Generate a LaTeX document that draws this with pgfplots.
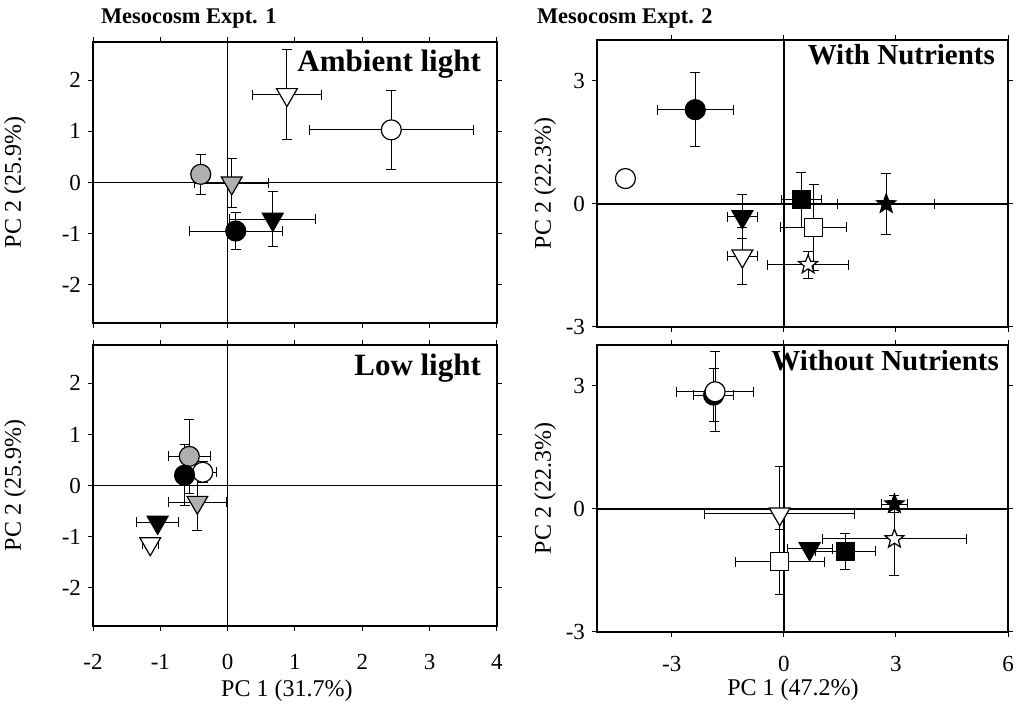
\documentclass[border=0pt]{standalone}
\usepackage{pgfplots}
\pgfplotsset{compat=1.18}
\usepackage{fontspec}
\setmainfont{Liberation Serif}

% five pointed star mark
\pgfdeclareplotmark{fstar}{%
  \pgfpathmoveto{\pgfpointpolar{90}{\pgfplotmarksize}}%
  \pgfpathlineto{\pgfpointpolar{126}{0.42\pgfplotmarksize}}%
  \pgfpathlineto{\pgfpointpolar{162}{\pgfplotmarksize}}%
  \pgfpathlineto{\pgfpointpolar{198}{0.42\pgfplotmarksize}}%
  \pgfpathlineto{\pgfpointpolar{234}{\pgfplotmarksize}}%
  \pgfpathlineto{\pgfpointpolar{270}{0.42\pgfplotmarksize}}%
  \pgfpathlineto{\pgfpointpolar{306}{\pgfplotmarksize}}%
  \pgfpathlineto{\pgfpointpolar{342}{0.42\pgfplotmarksize}}%
  \pgfpathlineto{\pgfpointpolar{18}{\pgfplotmarksize}}%
  \pgfpathlineto{\pgfpointpolar{54}{0.42\pgfplotmarksize}}%
  \pgfpathclose
  \pgfusepathqfillstroke}

\definecolor{dotgray}{RGB}{175,175,175}

\pgfplotsset{
  panel/.style={scale only axis, axis line style={line width=0.8pt},
    tick align=outside, tick pos=both, major tick length=2.5pt,
    every tick/.style={black, line width=0.5pt},
    /pgf/number format/assume math mode=true,
    tick label style={font=\fontsize{11.5}{12}\selectfont},
    label style={font=\fontsize{12}{14}\selectfont}},
  panelL/.style={panel, width=202pt, height=140.5pt,
    xmin=-2, xmax=4, ymin=-2.75, ymax=2.75,
    xtick={-2,-1,0,1,2,3,4}, ytick={-2,-1,0,1,2},
    xticklabel style={yshift=-8pt},
    ylabel style={at={([xshift=-39pt]axis description cs:0,0.5)}, anchor=center},
    xlabel style={at={([yshift=-32.5pt]axis description cs:0.48,0)}, anchor=center}},
  panelR/.style={panel, width=205.5pt, height=143.5pt,
    xmin=-5, xmax=6, ymin=-3, ymax=4,
    xtick={-3,0,3,6}, ytick={-3,0,3},
    xticklabel style={yshift=-6pt},
    ylabel style={at={([xshift=-26pt]axis description cs:0,0.5)}, anchor=center},
    xlabel style={at={([yshift=-29pt]axis description cs:0.477,0)}, anchor=center}},
  eb/.style={only marks,
    error bars/x dir=both, error bars/x explicit,
    error bars/y dir=both, error bars/y explicit,
    error bars/error bar style={black, line width=0.5pt},
    error bars/error mark options={rotate=90, black, line width=0.5pt, mark size=2.5pt}},
  bc/.style={eb, mark=*, mark size=5pt, mark options={draw=black, fill=black, line width=0.6pt}},
  oc/.style={eb, mark=*, mark size=5pt, mark options={draw=black, fill=white, line width=0.6pt}},
  gc/.style={eb, mark=*, mark size=5pt, mark options={draw=black, fill=dotgray, line width=0.6pt}},
  bt/.style={eb, mark=triangle*, mark size=6pt, mark options={rotate=180, draw=black, fill=black, line width=0.6pt}},
  ot/.style={eb, mark=triangle*, mark size=6pt, mark options={rotate=180, draw=black, fill=white, line width=0.6pt}},
  gt/.style={eb, mark=triangle*, mark size=6pt, mark options={rotate=180, draw=black, fill=dotgray, line width=0.6pt}},
  bs/.style={eb, mark=square*, mark size=4.5pt, mark options={draw=black, fill=black, line width=0.6pt}},
  os/.style={eb, mark=square*, mark size=4.5pt, mark options={draw=black, fill=white, line width=0.6pt}},
  bst/.style={eb, mark=fstar, mark size=5pt, mark options={draw=black, fill=black, line width=0.6pt}},
  ost/.style={eb, mark=fstar, mark size=5pt, mark options={draw=black, fill=white, line width=0.6pt}},
}

\tikzset{plabL/.style={anchor=base east, font=\bfseries\fontsize{15.5}{16}\selectfont},
  plabR/.style={anchor=base east, font=\bfseries\fontsize{14.5}{16}\selectfont}}

\begin{document}
\begin{tikzpicture}
\useasboundingbox (0,0) rectangle (510pt,-357.5pt);

\node[anchor=base west, font=\bfseries\fontsize{11.2}{12}\selectfont] at (47pt,-12pt) {Mesocosm Expt. 1};
\node[anchor=base west, font=\bfseries\fontsize{11.2}{12}\selectfont] at (265pt,-12pt) {Mesocosm Expt. 2};

% Expt 1, ambient light
\begin{axis}[panelL, at={(46.5pt,-21pt)}, anchor=north west,
  xticklabels=\empty, ylabel={PC 2 (25.9\%)}]
\draw[line width=0.8pt] (axis cs:0,-2.75) -- (axis cs:0,2.75);
\draw[line width=0.8pt] (axis cs:-2,0) -- (axis cs:4,0);
\addplot[gc] coordinates {(-0.40,0.16) +- (0.08,0.39)};
\addplot[gt] coordinates {(0.06,-0.01) +- (0.55,0.47)};
\addplot[ot] coordinates {(0.88,1.72) +- (0.51,0.88)};
\addplot[oc] coordinates {(2.43,1.03) +- (1.22,0.77)};
\addplot[bc] coordinates {(0.12,-0.95) +- (0.69,0.37)};
\addplot[bt] coordinates {(0.67,-0.72) +- (0.64,0.54)};
\node[plabL, xshift=-4.5pt, yshift=-15pt] at (rel axis cs:1,1) {Ambient light};
\end{axis}

% Expt 1, low light
\begin{axis}[panelL, at={(46.5pt,-172.5pt)}, anchor=north west,
  ylabel={PC 2 (25.9\%)}, xlabel={PC 1 (31.7\%)}]
\draw[line width=0.8pt] (axis cs:0,-2.75) -- (axis cs:0,2.75);
\draw[line width=0.8pt] (axis cs:-2,0) -- (axis cs:4,0);
\addplot[gc] coordinates {(-0.57,0.57) +- (0.31,0.73)};
\addplot[oc] coordinates {(-0.37,0.26) +- (0.21,0.20)};
\addplot[bc] coordinates {(-0.64,0.20) +- (0.10,0.60)};
\addplot[gt] coordinates {(-0.45,-0.33) +- (0.43,0.55)};
\addplot[bt] coordinates {(-1.04,-0.72) +- (0.31,0.05)};
\addplot[ot] coordinates {(-1.15,-1.14) +- (0.12,0.10)};
\node[plabL, xshift=-4.5pt, yshift=-15pt] at (rel axis cs:1,1) {Low light};
\end{axis}

% Expt 2, with nutrients
\begin{axis}[panelR, at={(298.5pt,-20pt)}, anchor=north west,
  xticklabels=\empty, ylabel={PC 2 (22.3\%)}]
\draw[line width=0.8pt] (axis cs:0,-3) -- (axis cs:0,4);
\draw[line width=0.8pt] (axis cs:-5,0) -- (axis cs:6,0);
\addplot[oc] coordinates {(-4.24,0.62) +- (0,0)};
\addplot[bc] coordinates {(-2.37,2.30) +- (1.02,0.90)};
\addplot[bt] coordinates {(-1.11,-0.31) +- (0.40,0.53)};
\addplot[ot] coordinates {(-1.11,-1.27) +- (0.40,0.70)};
\addplot[bs] coordinates {(0.47,0.10) +- (0.53,0.67)};
\addplot[os] coordinates {(0.80,-0.57) +- (0.89,1.05)};
\addplot[ost] coordinates {(0.65,-1.48) +- (1.08,0.33)};
\addplot[bst] coordinates {(2.74,0.00) +- (1.30,0.75)};
\node[plabR, xshift=-3pt, yshift=-12.5pt] at (rel axis cs:1,1) {With Nutrients};
\end{axis}

% Expt 2, without nutrients
\begin{axis}[panelR, at={(298.5pt,-172.5pt)}, anchor=north west,
  ylabel={PC 2 (22.3\%)}, xlabel={PC 1 (47.2\%)}]
\draw[line width=0.8pt] (axis cs:0,-3) -- (axis cs:0,4);
\draw[line width=0.8pt] (axis cs:-5,0) -- (axis cs:6,0);
\addplot[bc] coordinates {(-1.88,2.78) +- (0.54,0.65)};
\addplot[oc] coordinates {(-1.84,2.86) +- (1.02,0.98)};
\addplot[ot] coordinates {(-0.11,-0.12) +- (2.00,1.15)};
\addplot[os] coordinates {(-0.11,-1.29) +- (1.19,0.80)};
\addplot[bt] coordinates {(0.69,-0.97) +- (0.60,0.10)};
\addplot[bs] coordinates {(1.65,-1.03) +- (0.80,0.44)};
\addplot[ost] coordinates {(2.96,-0.73) +- (1.93,0.90)};
\addplot[bst] coordinates {(2.96,0.12) +- (0.34,0.20)};
\node[plabR, xshift=-1pt, yshift=-12.5pt] at (rel axis cs:1,1) {Without Nutrients};
\end{axis}
\end{tikzpicture}
\end{document}
